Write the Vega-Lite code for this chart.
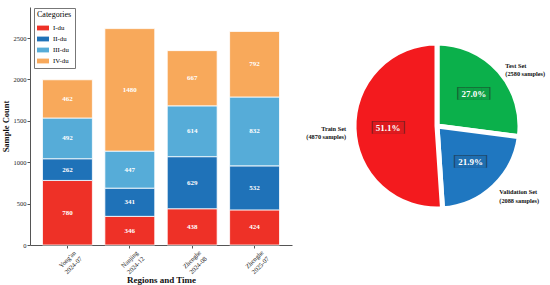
{
  "$schema": "https://vega.github.io/schema/vega-lite/v6.json",
  "padding": {"top": 7, "left": 1, "right": 0, "bottom": 0},
  "bounds": "flush",
  "spacing": 35,
  "resolve": {"scale": {"color": "independent"}, "legend": {"color": "independent"}},
  "config": {
    "view": {"stroke": null},
    "font": "Liberation Serif",
    "axis": {"labelFont": "Liberation Serif", "titleFont": "Liberation Serif", "domainColor": "#555", "tickColor": "#555", "labelColor": "#222", "titleColor": "#111", "grid": false}
  },
  "hconcat": [
    {
      "width": 262,
      "height": 238,
      "data": {
        "values": [
          {"region": "Yong'an\n2024-07", "category": "I-du", "count": 780},
          {"region": "Yong'an\n2024-07", "category": "II-du", "count": 262},
          {"region": "Yong'an\n2024-07", "category": "III-du", "count": 492},
          {"region": "Yong'an\n2024-07", "category": "IV-du", "count": 462},
          {"region": "Nanjing\n2024-12", "category": "I-du", "count": 346},
          {"region": "Nanjing\n2024-12", "category": "II-du", "count": 341},
          {"region": "Nanjing\n2024-12", "category": "III-du", "count": 447},
          {"region": "Nanjing\n2024-12", "category": "IV-du", "count": 1480},
          {"region": "Zhenghe\n2024-08", "category": "I-du", "count": 438},
          {"region": "Zhenghe\n2024-08", "category": "II-du", "count": 629},
          {"region": "Zhenghe\n2024-08", "category": "III-du", "count": 614},
          {"region": "Zhenghe\n2024-08", "category": "IV-du", "count": 667},
          {"region": "Zhenghe\n2025-07", "category": "I-du", "count": 424},
          {"region": "Zhenghe\n2025-07", "category": "II-du", "count": 532},
          {"region": "Zhenghe\n2025-07", "category": "III-du", "count": 832},
          {"region": "Zhenghe\n2025-07", "category": "IV-du", "count": 792}
        ]
      },
      "encoding": {
        "x": {
          "field": "region", "type": "nominal", "sort": null,
          "scale": {"paddingInner": 0.2, "paddingOuter": 0.2},
          "axis": {
            "title": "Regions and Time", "titleFontSize": 9, "titleFontWeight": "bold", "titlePadding": 0,
            "labelAngle": -45, "labelAlign": "center", "labelBaseline": "middle", "labelPadding": 11,
            "labelFontSize": 6.5, "tickSize": 3,
            "labelExpr": "split(datum.label, '\\n')"
          }
        },
        "order": {"field": "category", "type": "nominal", "sort": "ascending"}
      },
      "layer": [
        {
          "mark": {"type": "bar", "stroke": "white", "strokeWidth": 0.8},
          "encoding": {
            "y": {
              "field": "count", "type": "quantitative", "stack": "zero",
              "scale": {"domain": [0, 2875], "nice": false},
              "axis": {"title": "Sample Count", "titleFontSize": 8.5, "titleFontWeight": "bold", "titlePadding": 3, "values": [0, 500, 1000, 1500, 2000, 2500], "format": "d", "labelFontSize": 6.5, "tickSize": 3, "labelPadding": 1}
            },
            "color": {
              "field": "category", "type": "nominal",
              "scale": {"domain": ["I-du", "II-du", "III-du", "IV-du"], "range": ["#ee3127", "#1f72b8", "#56acd8", "#f8a95b"]},
              "legend": {
                "title": "Categories", "orient": "none", "legendX": 4, "legendY": 1,
                "titleFontSize": 8, "titleFontWeight": "normal", "titleFont": "Liberation Serif", "titlePadding": 3,
                "labelFontSize": 6.8, "labelFont": "Liberation Serif",
                "strokeColor": "#777", "fillColor": "white", "padding": 3, "rowPadding": 1,
                "symbolType": "M-1,-0.4H1V0.4H-1Z", "symbolSize": 144, "symbolStrokeWidth": 0, "symbolOpacity": 1
              }
            }
          }
        },
        {
          "mark": {"type": "text", "fontWeight": "bold", "fontSize": 7, "baseline": "middle"},
          "encoding": {
            "y": {"field": "count", "type": "quantitative", "stack": "zero", "bandPosition": 0.5},
            "detail": {"field": "category"},
            "text": {"field": "count", "type": "quantitative", "format": "d"},
            "color": {"value": "white"}
          }
        }
      ]
    },
    {
      "width": 220,
      "height": 238,
      "data": {
        "values": [
          {"set": "Test Set", "samples": 2580, "pct": "27.0%", "label": "Test Set\n(2580 samples)", "order": 1},
          {"set": "Validation Set", "samples": 2088, "pct": "21.9%", "label": "Validation Set\n(2088 samples)", "order": 2},
          {"set": "Train Set", "samples": 4870, "pct": "51.1%", "label": "Train Set\n(4870 samples)", "order": 3}
        ]
      },
      "encoding": {
        "theta": {"field": "samples", "type": "quantitative", "stack": true},
        "order": {"field": "order", "type": "quantitative"},
        "detail": {"field": "set"}
      },
      "layer": [
        {
          "mark": {"type": "arc", "outerRadius": 83, "stroke": "white", "strokeWidth": 5},
          "encoding": {
            "color": {"field": "set", "type": "nominal", "scale": {"domain": ["Train Set", "Validation Set", "Test Set"], "range": ["#f31a1e", "#1f77c0", "#0bb04b"]}, "legend": null}
          }
        },
        {
          "mark": {"type": "text", "radius": 49, "text": "████", "font": "DejaVu Sans", "fontSize": 10.8, "baseline": "middle", "opacity": 0.55},
          "encoding": {"color": {"value": "#222"}}
        },
        {
          "mark": {"type": "text", "radius": 49, "text": "████", "font": "DejaVu Sans", "fontSize": 10, "baseline": "middle", "opacity": 0.82},
          "encoding": {
            "color": {"field": "set", "type": "nominal", "scale": {"domain": ["Train Set", "Validation Set", "Test Set"], "range": ["#f31a1e", "#1f77c0", "#0bb04b"]}, "legend": null}
          }
        },
        {
          "mark": {"type": "text", "radius": 49, "fontSize": 9, "fontWeight": "bold", "baseline": "middle"},
          "encoding": {"text": {"field": "pct"}, "color": {"value": "white"}}
        },
        {
          "mark": {"type": "text", "radius": 91, "fontSize": 6.3, "fontWeight": "bold", "baseline": "middle", "lineBreak": "\n", "align": {"expr": "datum.set == 'Train Set' ? 'right' : 'left'"}},
          "encoding": {"text": {"field": "label"}, "color": {"value": "#111"}}
        }
      ]
    }
  ]
}
